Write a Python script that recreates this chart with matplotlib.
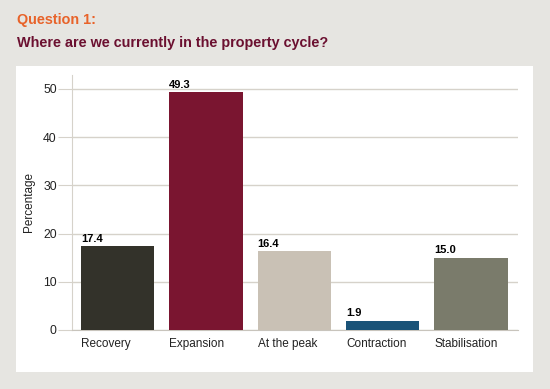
import matplotlib
matplotlib.use("Agg")
import matplotlib.pyplot as plt
from matplotlib.patches import Rectangle

categories = ["Recovery", "Expansion", "At the peak", "Contraction", "Stabilisation"]
values = [17.4, 49.3, 16.4, 1.9, 15.0]
colors = ["#33322a", "#7a1530", "#c9c1b5", "#1a5378", "#7a7b6b"]
yticks = [0, 10, 20, 30, 40, 50]

plt.rcParams['font.family'] = ['Liberation Sans', 'DejaVu Sans']

W, H = 550, 389
fig = plt.figure(figsize=(5.5, 3.89), dpi=100)
fig.patch.set_facecolor("#e6e5e1")

# white panel
fig.patches.append(Rectangle((16 / W, 1 - 372 / H), (533 - 16) / W, (372 - 66) / H,
                             transform=fig.transFigure, facecolor="white", edgecolor="none", zorder=-1))

fig.text(17 / W, 1 - 24 / H, "Question 1:", color="#e8632a", fontsize=10.4, fontweight="bold")
fig.text(17 / W, 1 - 47 / H, "Where are we currently in the property cycle?", color="#6b1030",
         fontsize=10.4, fontweight="bold")

ax = fig.add_axes([72 / W, 1 - 330 / H, (518 - 72) / W, (330 - 75) / H])
ax.set_zorder(2)
ax.set_facecolor("none")
x = list(range(len(categories)))
width = 0.83
bars = ax.bar(x, values, width=width, color=colors, zorder=3)
for b, v in zip(bars, values):
    ax.text(b.get_x(), v + 0.5, f"{v:.1f}", ha="left", va="bottom", fontsize=8, fontweight="bold", zorder=4)

ax.set_xlim(-0.515, 4.53)
ax.set_ylim(0, 52.9)
ax.set_yticks(yticks)
ax.set_xticks([i - width / 2 for i in x])
ax.set_xticklabels(categories, fontsize=8.5, color="#222222", ha="left")
ax.tick_params(axis="x", length=0, pad=6)
ax.tick_params(axis="y", length=10, color="#d6d2ca", labelsize=8.8, labelcolor="#222222", pad=1)
ax.yaxis.grid(True, color="#d6d2ca", linewidth=1, zorder=0)
for s in ["top", "right"]:
    ax.spines[s].set_visible(False)
ax.spines["left"].set_color("#d6d2ca")
ax.spines["bottom"].set_color("#c8c4bc")
ax.set_ylabel("Percentage", fontsize=8.5, color="#222222", labelpad=6)

fig.savefig("out.png", dpi=100, facecolor=fig.get_facecolor())
